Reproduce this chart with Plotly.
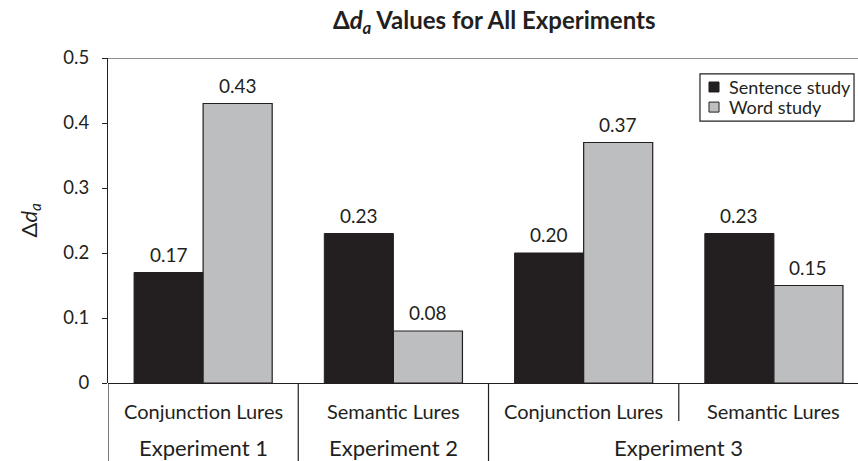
import plotly.graph_objects as go

categories = ["Conjunction Lures", "Semantic Lures", "Conjunction Lures", "Semantic Lures"]
experiments = ["Experiment 1", "Experiment 2", "Experiment 3"]
experiment_span = [1, 1, 2]  # number of categories per experiment
series_names = ["Sentence study", "Word study"]
sentence_study = [0.17, 0.23, 0.20, 0.23]
word_study = [0.43, 0.08, 0.37, 0.15]
y_ticks = [0, 0.1, 0.2, 0.3, 0.4, 0.5]
y_tick_labels = ["0", "0.1", "0.2", "0.3", "0.4", "0.5"]

FONT = "Lato"
BLACK = "#231f20"
GRAY = "#bcbec0"
TXT = "#231f20"
BW = 0.363  # bar width in category units
colors = [BLACK, GRAY]

xs = list(range(len(categories)))

fig = go.Figure()
fig.add_trace(go.Bar(x=xs, y=sentence_study, name=series_names[0], width=BW, offset=-BW,
                     marker=dict(color=BLACK, line=dict(color=BLACK, width=1))))
fig.add_trace(go.Bar(x=xs, y=word_study, name=series_names[1], width=BW, offset=0,
                     marker=dict(color=GRAY, line=dict(color=BLACK, width=1.2))))

annotations = []
for i, (s, w) in enumerate(zip(sentence_study, word_study)):
    for xv, yv in ((i - BW / 2, s), (i + BW / 2, w)):
        annotations.append(dict(x=xv, y=yv, xref="x", yref="y", text=f"{yv:.2f}",
                                showarrow=False, yanchor="bottom", yshift=5,
                                font=dict(family=FONT, size=19, color=TXT)))
# category labels
for i, c in enumerate(categories):
    annotations.append(dict(x=i, y=-0.085, xref="x", yref="paper", text=c, showarrow=False,
                            yanchor="middle", font=dict(family=FONT, size=20, color=TXT)))
# experiment labels
start = 0
for e, span in zip(experiments, experiment_span):
    center = start + (span - 1) / 2
    annotations.append(dict(x=center, y=-0.197, xref="x", yref="paper", text=e, showarrow=False,
                            yanchor="middle", font=dict(family=FONT, size=22, color=TXT)))
    start += span

# y-axis title
annotations.append(dict(x=-0.128, y=0.5, xref="paper", yref="paper", textangle=-90,
                        text="Δ<i>d</i><sub><i>a</i></sub>", showarrow=False,
                        font=dict(family=FONT, size=22, color=TXT)))

shapes = []
# manual legend
shapes.append(dict(type="rect", xref="paper", yref="paper", x0=0.7893, x1=0.9947, y0=0.806, y1=0.951,
                   line=dict(color=BLACK, width=1.2), fillcolor="white"))
legend_rows = [0.9108, 0.849]
for name, col, yc in zip(series_names, colors, legend_rows):
    shapes.append(dict(type="rect", xref="paper", yref="paper", x0=0.8013, x1=0.8147,
                       y0=yc - 0.0154, y1=yc + 0.0154, fillcolor=col, line=dict(color=BLACK, width=1)))
    annotations.append(dict(x=0.8253, y=yc, xref="paper", yref="paper", text=name, showarrow=False,
                            xanchor="left", yanchor="middle",
                            font=dict(family=FONT, size=18, color=TXT)))

# top border
shapes.append(dict(type="line", xref="paper", yref="y", x0=0, x1=1, y0=0.5, y1=0.5,
                   line=dict(color=BLACK, width=1.2)))
# separators
boundaries = []
start = 0
for span in experiment_span:
    boundaries.append((start - 0.5, True))
    for k in range(1, span):
        boundaries.append((start + k - 0.5, False))
    start += span
for xb, full in boundaries:
    shapes.append(dict(type="line", xref="x", yref="paper", x0=xb, x1=xb, y0=0,
                       y1=-0.25 if full else -0.117, line=dict(color=BLACK, width=1.2)))

fig.update_layout(
    width=858, height=461,
    margin=dict(l=108, r=0, t=58, b=78, autoexpand=False),
    paper_bgcolor="white", plot_bgcolor="white",
    title=dict(text="Δ<i>d</i><sub><i>a</i></sub> Values for All Experiments", x=0.576, xanchor="center",
               y=0.955, yanchor="middle",
               font=dict(family=FONT, size=24, color=TXT, weight="bold")),
    barmode="overlay",
    showlegend=False,
    xaxis=dict(range=[-0.5, 3.442], showticklabels=False, ticks="", showgrid=False, zeroline=False,
               showline=False, fixedrange=True, automargin=False),
    yaxis=dict(range=[0, 0.5], tickvals=y_ticks, ticktext=y_tick_labels, ticks="outside", ticklen=5,
               tickcolor=BLACK, showline=True, linecolor=BLACK, linewidth=1.2, showgrid=False,
               zeroline=True, zerolinecolor=BLACK, zerolinewidth=1.2, automargin=False,
               ticklabelstandoff=9,
               tickfont=dict(family=FONT, size=18.5, color=TXT)),
    annotations=annotations,
    shapes=shapes,
)

fig.write_html("out.html", config={"displayModeBar": False},
               post_script="document.body.style.margin='0';document.body.style.overflow='hidden';")
